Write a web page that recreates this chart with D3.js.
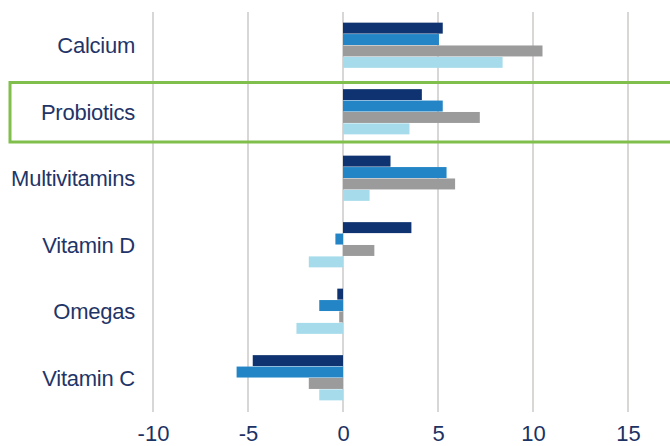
<!DOCTYPE html>
<html>
  <head>
    <meta charset="utf-8" />
    <style>
      body { margin: 0; background: #fff; }
      text { font-family: "Liberation Sans", Arial, sans-serif; }
    </style>
  </head>
  <body>

<svg id="graph"></svg>

<script src="https://d3js.org/d3.v7.min.js"></script>
<script>
// taille du svg
const WIDTH = 670
const HEIGHT = 446

// les données
const CATEGORIES = ['Calcium', 'Probiotics', 'Multivitamins', 'Vitamin D', 'Omegas', 'Vitamin C']
const SERIES = ['s1', 's2', 's3', 's4']
const S1 = [5.25, 4.15, 2.5, 3.6, -0.3, -4.75]
const S2 = [5.05, 5.25, 5.45, -0.4, -1.25, -5.6]
const S3 = [10.5, 7.2, 5.9, 1.65, -0.2, -1.8]
const S4 = [8.4, 3.5, 1.4, -1.8, -2.45, -1.25]
const TICKS = [-10, -5, 0, 5, 10, 15]
const HIGHLIGHT = 'Probiotics'

const COLORS = ['#0e3370', '#2485c6', '#9b9b9b', '#a6dbeb']

// tableau pour d3
const rows = CATEGORIES.map((c, i) => ({
  cat: c,
  values: [S1[i], S2[i], S3[i], S4[i]]
}))

const svg = d3.select('#graph')
  .attr('width', WIDTH)
  .attr('height', HEIGHT)

// échelle X
const x = d3.scaleLinear()
  .domain([-10, 15])
  .range([153, 628])

// échelle Y (catégories)
const y = d3.scaleBand()
  .domain(CATEGORIES)
  .range([12, 411])
  .paddingInner(0.32)
  .paddingOuter(0.16)

// échelle Y dans chaque groupe
const ySub = d3.scaleBand()
  .domain(SERIES)
  .range([0, y.bandwidth()])
  .paddingInner(0.04)

// lignes verticales de la grille
svg.append('g')
  .selectAll('line')
  .data(TICKS)
  .enter()
    .append('line')
    .attr('x1', d => x(d))
    .attr('x2', d => x(d))
    .attr('y1', 12)
    .attr('y2', 412)
    .attr('stroke', '#d9d6d6')
    .attr('stroke-width', 2)

// les bâtons
const groups = svg.append('g')
  .selectAll('g')
  .data(rows)
  .enter()
    .append('g')
    .attr('transform', d => `translate(0, ${y(d.cat)})`)

groups.selectAll('rect')
  .data(d => d.values.map((v, i) => ({ v: v, s: SERIES[i], i: i })))
  .enter()
    .append('rect')
    .attr('x', d => x(Math.min(0, d.v)))
    .attr('width', d => Math.abs(x(d.v) - x(0)))
    .attr('y', d => ySub(d.s))
    .attr('height', ySub.bandwidth())
    .attr('fill', d => COLORS[d.i])

// axe X (textes seulement), tiret simple comme dans l'original
const axisX = d3.axisBottom(x)
  .tickValues(TICKS)
  .tickFormat(d => String(d))
  .tickSize(0)
  .tickPadding(0)

const axisGroup = svg.append('g')
  .attr('transform', 'translate(0, 425)')
  .call(axisX)
axisGroup.select('.domain').remove()
axisGroup.selectAll('text')
  .attr('font-size', 22)
  .attr('font-family', '"Liberation Sans", Arial, sans-serif')
  .attr('fill', '#1b3263')

// axe Y (noms)
const axisY = d3.axisLeft(y)
  .tickSize(0)
  .tickPadding(0)

const axisYGroup = svg.append('g')
  .attr('transform', 'translate(135, 1)')
  .call(axisY)
axisYGroup.select('.domain').remove()
axisYGroup.selectAll('text')
  .attr('font-size', 22)
  .attr('letter-spacing', -0.25)
  .attr('font-family', '"Liberation Sans", Arial, sans-serif')
  .attr('fill', '#1f3568')

// cadre vert autour de Probiotics
const step = y.step()
svg.append('rect')
  .attr('x', 10)
  .attr('y', y(HIGHLIGHT) - step * 0.16 + 4)
  .attr('width', WIDTH)
  .attr('height', step - 7)
  .attr('fill', 'none')
  .attr('stroke', '#80bf4c')
  .attr('stroke-width', 3)

</script>
  </body>
</html>
